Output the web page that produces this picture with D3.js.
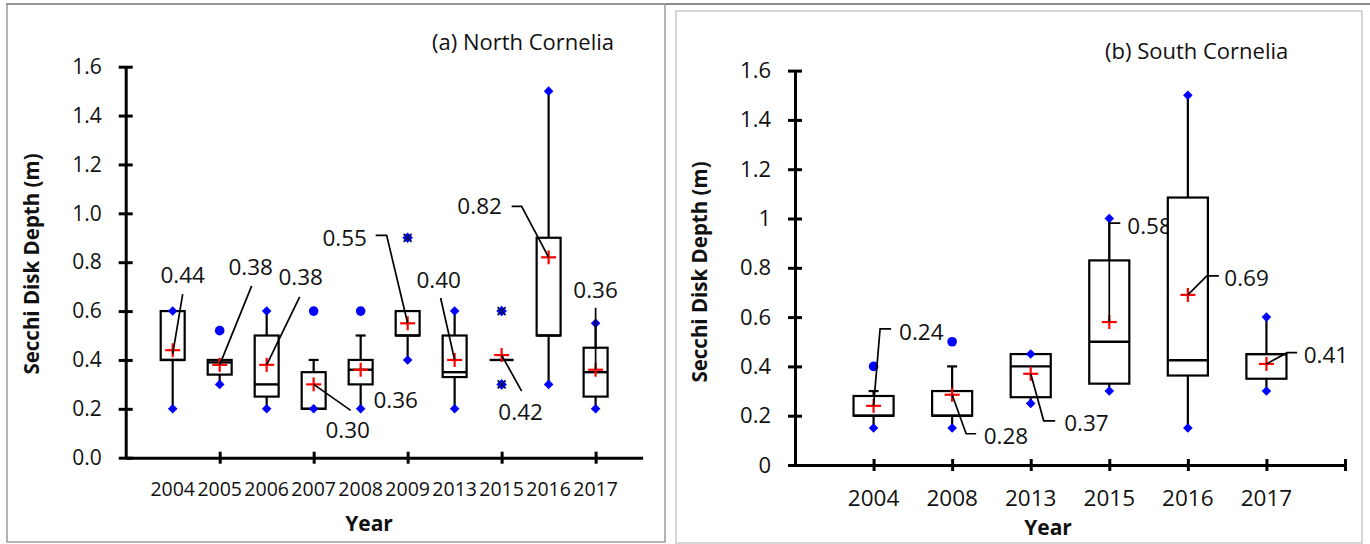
<!DOCTYPE html>
<html><head><meta charset="utf-8">
<script src="https://cdn.jsdelivr.net/npm/d3@7"></script>
<style>
body{margin:0;background:#fff}
svg{display:block}
text{font-family:"Open Sans",sans-serif;fill:#111}
</style>
</head><body>
<svg id="c" width="1370" height="544"></svg>
<script>
// ---------------- DATA ----------------
// (a) North Cornelia
const yearsA   = ["2004","2005","2006","2007","2008","2009","2013","2015","2016","2017"];
const q1A      = [0.40, 0.34, 0.25, 0.20, 0.30, 0.50, 0.33, 0.40, 0.50, 0.25];
const medianA  = [0.40, 0.39, 0.30, 0.20, 0.36, 0.50, 0.35, 0.40, 0.50, 0.35];
const q3A      = [0.60, 0.40, 0.50, 0.35, 0.40, 0.60, 0.50, 0.40, 0.90, 0.45];
const whiskLoA = [0.20, 0.30, 0.20, 0.20, 0.20, 0.40, 0.20, 0.40, 0.30, 0.20];
const whiskHiA = [0.60, 0.40, 0.60, 0.40, 0.50, 0.60, 0.60, 0.40, 1.50, 0.55];
const meanA    = [0.44, 0.38, 0.38, 0.30, 0.36, 0.55, 0.40, 0.42, 0.82, 0.36];
const extremesA = [[0.6,0.2],[0.3],[0.6,0.2],[0.2],[0.2],[0.4],[0.6,0.2],[],[1.5,0.3],[0.55,0.2]];
const outliersA = [[],[0.52],[],[0.6],[0.6],[],[],[],[],[]];
const farOutA   = [[],[],[],[],[],[0.9],[],[0.6,0.3],[],[]];
const yTicksA  = [0,0.2,0.4,0.6,0.8,1.0,1.2,1.4,1.6];
const yTickLabelsA = ["0.0","0.2","0.4","0.6","0.8","1.0","1.2","1.4","1.6"];
const meanLabelsA = ["0.44","0.38","0.38","0.30","0.36","0.55","0.40","0.42","0.82","0.36"];

// (b) South Cornelia
const yearsB   = ["2004","2008","2013","2015","2016","2017"];
const q1B      = [0.20, 0.20, 0.275, 0.33, 0.363, 0.35];
const medianB  = [0.20, 0.20, 0.40, 0.50, 0.425, 0.45];
const q3B      = [0.28, 0.30, 0.45, 0.83, 1.085, 0.45];
const whiskLoB = [0.15, 0.15, 0.25, 0.30, 0.15, 0.30];
const whiskHiB = [0.30, 0.40, 0.45, 1.00, 1.50, 0.60];
const meanB    = [0.24, 0.285, 0.37, 0.58, 0.69, 0.41];
const extremesB = [[0.15],[0.15],[0.45,0.25],[1.0,0.3],[1.5,0.15],[0.6,0.3]];
const outliersB = [[0.4],[0.5],[],[],[],[]];
const farOutB   = [[],[],[],[],[],[]];
const yTicksB  = [0,0.2,0.4,0.6,0.8,1.0,1.2,1.4,1.6];
const yTickLabelsB = ["0","0.2","0.4","0.6","0.8","1","1.2","1.4","1.6"];
const meanLabelsB = ["0.24","0.28","0.37","0.58","0.69","0.41"];

// ---------------- LAYOUT ----------------
const layoutA = {
  xRange:[125.7,642.6], xDomain:[0,11], yRange:[457.7,66.7], xTicks:[2,4,6,8,10],
  boxHalf:0.255, capHalf:5, xLabelY:488.5, xLabelSize:19.5, yLabelSize:21,
  yTitle:[32,264], year:[369,523], title:[432,50], frame:[7,4,665,542], frameColor:"#9a9a9a",
  labels:[
    {lead:[[0,4],[10,-56]], at:[10,-75], anchor:"middle"},
    {lead:[[0,0],[32,-79]], at:[31,-98], anchor:"middle"},
    {lead:[[0,0],[33,-68]], at:[34,-88], anchor:"middle"},
    {lead:[[0,0],[37,26]],  at:[34,46],  anchor:"middle"},
    {lead:null,             at:[35,30],  anchor:"middle"},
    {lead:[[0,0],[-21,-88],[-32,-88]], at:[-63,-85], anchor:"middle"},
    {lead:[[0,0],[-14,-62]], at:[-16,-80], anchor:"middle"},
    {lead:[[0,0],[20,36]],  at:[19,57],  anchor:"middle"},
    {lead:[[0,0],[-27,-51],[-37,-51]], at:[-69,-51], anchor:"middle"},
    {lead:[[0,0],[0,-62]],  at:[0,-80],  anchor:"middle"}
  ]
};
const layoutB = {
  xRange:[795,1345], xDomain:[0,7], yRange:[465,70.6], xTicks:[1,2,3,4,5,6,7],
  boxHalf:0.255, capHalf:5, xLabelY:498, xLabelSize:22.5, yLabelSize:22,
  yTitle:[700,272], year:[1048,527], title:[1105,59], frame:[676,11,1362,543], frameColor:"#c8c8c8",
  labels:[
    {lead:[[0,0],[6.5,-77],[17.5,-77]], at:[25.5,-74], anchor:"start"},
    {lead:[[0,0],[14,39],[24,39]],      at:[31.5,41],  anchor:"start"},
    {lead:[[0,0],[13,47],[24.5,47]],    at:[33.5,49],  anchor:"start"},
    {lead:[[0,0],[0,-99],[11,-99]],     at:[18,-96],   anchor:"start"},
    {lead:[[0,0],[19,-19],[31,-19]],    at:[36.5,-16.6], anchor:"start"},
    {lead:[[0,0],[20.7,-11.3],[30.7,-11.3]], at:[37.3,-9], anchor:"start"}
  ]
};

const panels = [
  {years:yearsA,q1:q1A,med:medianA,q3:q3A,wlo:whiskLoA,whi:whiskHiA,mean:meanA,ext:extremesA,out:outliersA,far:farOutA,
   yTicks:yTicksA,yLabels:yTickLabelsA,meanLabels:meanLabelsA,title:"(a) North Cornelia",L:layoutA},
  {years:yearsB,q1:q1B,med:medianB,q3:q3B,wlo:whiskLoB,whi:whiskHiB,mean:meanB,ext:extremesB,out:outliersB,far:farOutB,
   yTicks:yTicksB,yLabels:yTickLabelsB,meanLabels:meanLabelsB,title:"(b) South Cornelia",L:layoutB}
];

const svg = d3.select("#c");
svg.append("rect").attr("width",1370).attr("height",544).attr("fill","#fff");
svg.append("line").attr("x1",6).attr("x2",1370).attr("y1",4).attr("y2",4).attr("stroke","#8c8c8c").attr("stroke-width",2);

const BLUE="#0000ff", RED="#ff0000";

panels.forEach(P=>{
  const L=P.L;
  const g=svg.append("g");
  const f=L.frame;
  g.append("rect").attr("x",f[0]).attr("y",f[1]).attr("width",f[2]-f[0]).attr("height",f[3]-f[1])
    .attr("fill","none").attr("stroke",L.frameColor).attr("stroke-width",1.5);

  const x=d3.scaleLinear().domain(L.xDomain).range(L.xRange);
  const y=d3.scaleLinear().domain([0,1.6]).range(L.yRange);
  const bw = (x(1)-x(0))*L.boxHalf;

  const ya=g.append("g").attr("transform",`translate(${L.xRange[0]},0)`)
    .call(d3.axisLeft(y).tickValues(P.yTicks).tickFormat((d,i)=>P.yLabels[i]).tickSizeInner(7).tickSizeOuter(0).tickPadding(17));
  ya.selectAll(".tick line").attr("x1",-7).attr("x2",7);
  ya.selectAll("path,line").attr("stroke","#000").attr("stroke-width",3);
  ya.selectAll("text").attr("font-size",L.yLabelSize).attr("font-family","Open Sans").attr("fill","#111");

  const xa=g.append("g").attr("transform",`translate(0,${L.yRange[0]})`)
    .call(d3.axisBottom(x).tickValues(L.xTicks).tickFormat("").tickSizeInner(6).tickSizeOuter(0));
  xa.selectAll(".tick line").attr("y1",-6).attr("y2",6);
  xa.selectAll("path,line").attr("stroke","#000").attr("stroke-width",3);

  g.selectAll(".cat").data(P.years).join("text")
    .attr("x",(d,i)=>x(i+1)).attr("y",L.xLabelY).attr("dy","0.36em")
    .attr("text-anchor","middle").attr("font-size",L.xLabelSize).text(d=>d);

  g.append("text").attr("x",L.year[0]).attr("y",L.year[1]).attr("dy","0.36em").attr("text-anchor","middle")
    .attr("font-size",21).attr("font-weight","bold").text("Year");
  g.append("text").attr("transform",`translate(${L.yTitle[0]},${L.yTitle[1]}) rotate(-90)`).attr("dy","0.36em")
    .attr("text-anchor","middle").attr("font-size",20.5).attr("font-weight","bold").text("Secchi Disk Depth (m)");
  g.append("text").attr("x",L.title[0]).attr("y",L.title[1]).attr("font-size",22).text(P.title);

  P.years.forEach((yr,i)=>{
    const cx=x(i+1);
    const ext=P.ext[i];
    const line=(x1,y1,x2,y2,w,c)=>g.append("line").attr("x1",x1).attr("y1",y1).attr("x2",x2).attr("y2",y2)
      .attr("stroke",c||"#000").attr("stroke-width",w||2.2);
    if(P.whi[i]>P.q3[i]){
      line(cx,y(P.q3[i]),cx,y(P.whi[i]));
      if(!ext.includes(P.whi[i])) line(cx-L.capHalf,y(P.whi[i]),cx+L.capHalf,y(P.whi[i]));
    }
    if(P.wlo[i]<P.q1[i]){
      line(cx,y(P.q1[i]),cx,y(P.wlo[i]));
      if(!ext.includes(P.wlo[i])) line(cx-L.capHalf,y(P.wlo[i]),cx+L.capHalf,y(P.wlo[i]));
    }
    g.append("rect").attr("x",cx-bw).attr("y",y(P.q3[i])).attr("width",2*bw)
      .attr("height",Math.max(0,y(P.q1[i])-y(P.q3[i])))
      .attr("fill","#fff").attr("stroke","#000").attr("stroke-width",2.2);
    line(cx-bw,y(P.med[i]),cx+bw,y(P.med[i]),2.4);
    ext.forEach(v=>{
      g.append("path").attr("d",d3.symbol(d3.symbolSquare,46)())
        .attr("transform",`translate(${cx},${y(v)}) rotate(45)`).attr("fill",BLUE);
    });
    P.out[i].forEach(v=>{
      g.append("circle").attr("cx",cx).attr("cy",y(v)).attr("r",4.8).attr("fill",BLUE);
    });
    P.far[i].forEach(v=>{
      g.append("path").attr("d",d3.symbol(d3.symbolSquare,56)())
        .attr("transform",`translate(${cx},${y(v)}) rotate(45)`).attr("fill",BLUE);
      const s=4;
      line(cx-s,y(v)-s,cx+s,y(v)+s,1.8,"#001060");
      line(cx-s,y(v)+s,cx+s,y(v)-s,1.8,"#001060");
    });
    const my=y(P.mean[i]);
    line(cx-7.5,my,cx+7.5,my,2.2,RED);
    line(cx,my-7,cx,my+7,2.2,RED);
    const lb=L.labels[i];
    if(lb.lead){
      g.append("path").attr("d",d3.line()(lb.lead.map(p=>[cx+p[0],my+p[1]])))
        .attr("fill","none").attr("stroke","#000").attr("stroke-width",1.7);
    }
    g.append("text").attr("x",cx+lb.at[0]).attr("y",my+lb.at[1]).attr("dy","0.36em")
      .attr("text-anchor",lb.anchor).attr("font-size",22.5).text(P.meanLabels[i]);
  });
});
</script>
</body></html>
